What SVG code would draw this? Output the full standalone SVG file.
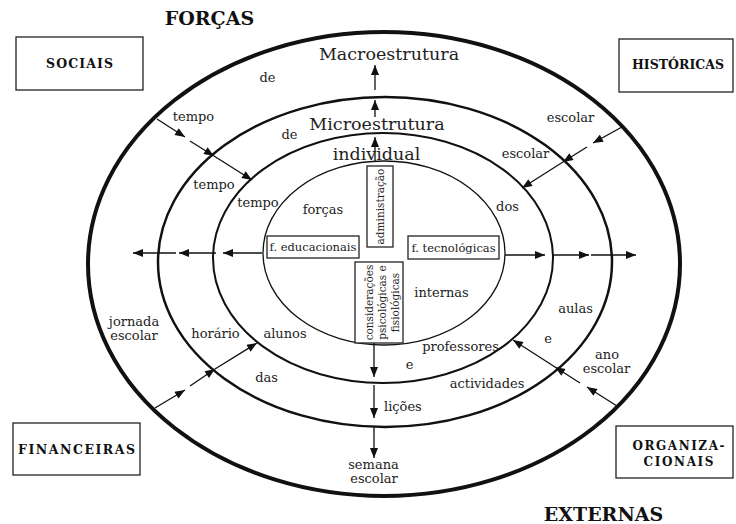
<svg xmlns="http://www.w3.org/2000/svg" width="736" height="524" viewBox="0 0 736 524">
<style>
.t{font-family:'DejaVu Serif','Liberation Serif',serif;fill:#222;text-anchor:middle}
.s13{font-size:13px}
.big{font-size:17.5px}
.bx{font-size:11.5px}
.rt{font-size:10.5px}
.b{font-family:'DejaVu Serif','Liberation Serif',serif;font-weight:bold;fill:#111;text-anchor:middle}
.box{fill:#fff;stroke:#222;stroke-width:1.3}
.ring{fill:none;stroke:#111}
.c{stroke:#111;stroke-width:1.3;fill:none;marker-end:url(#ah)}
</style>
<defs>
<marker id="ah" viewBox="0 0 10 8" refX="10" refY="4" markerWidth="11" markerHeight="8" orient="auto" markerUnits="userSpaceOnUse"><path d="M0,0 L10,4 L0,8 z" fill="#111"/></marker>
</defs>
<rect width="736" height="524" fill="#fff"/>
<g id="rings">
<ellipse id="outer" class="ring" cx="384" cy="264" rx="296" ry="232" stroke-width="4"/>
<ellipse id="ring2" class="ring" cx="385" cy="262" rx="227" ry="165" stroke-width="2.5"/>
<ellipse id="ring3" class="ring" cx="383" cy="258" rx="170" ry="125" stroke-width="2"/>
<ellipse id="inner" class="ring" cx="384" cy="253" rx="121" ry="92" stroke-width="1.3"/>
</g>
<g id="connectors">
<line class="c" x1="375" y1="162" x2="375" y2="137"/>
<line class="c" x1="375" y1="117" x2="375" y2="100"/>
<line class="c" x1="375" y1="90" x2="375" y2="65"/>
<line class="c" x1="374" y1="343" x2="374" y2="377"/>
<line class="c" x1="374" y1="385" x2="374" y2="418"/>
<line class="c" x1="374" y1="427" x2="374" y2="458"/>
<line class="c" x1="262" y1="253" x2="223" y2="253"/>
<line class="c" x1="216" y1="253" x2="179" y2="253"/>
<line class="c" x1="176" y1="253" x2="133" y2="253"/>
<line class="c" x1="505" y1="255" x2="545" y2="255"/>
<line class="c" x1="552" y1="255" x2="589" y2="255"/>
<line class="c" x1="591" y1="255" x2="636" y2="255"/>
<line class="c" x1="157" y1="119" x2="185" y2="137"/>
<line class="c" x1="190" y1="141" x2="214" y2="156"/>
<line class="c" x1="214" y1="156" x2="252" y2="180"/>
<line class="c" x1="622" y1="127" x2="593" y2="143"/>
<line class="c" x1="587" y1="147" x2="563" y2="162"/>
<line class="c" x1="563" y1="162" x2="522" y2="188"/>
<line class="c" x1="155" y1="408" x2="185" y2="390"/>
<line class="c" x1="190" y1="386" x2="215" y2="369"/>
<line class="c" x1="215" y1="369" x2="257" y2="343"/>
<line class="c" x1="617" y1="406" x2="587" y2="387"/>
<line class="c" x1="580" y1="383" x2="555" y2="367"/>
<line class="c" x1="555" y1="367" x2="513" y2="340"/>
</g>
<g id="titles">
<text class="b" x="209.5" y="25" font-size="19">FORÇAS</text>
<text class="b" x="603.5" y="521" font-size="19">EXTERNAS</text>
</g>
<g id="sociais"><rect class="box" x="16" y="37" width="127" height="53"/><text class="b" x="79.5" y="68" font-size="12.5" textLength="67" lengthAdjust="spacing">SOCIAIS</text></g>
<g id="historicas"><rect class="box" x="619" y="39" width="114" height="53"/><text class="b" x="678" y="69" font-size="12.5" textLength="92" lengthAdjust="spacing">HISTÓRICAS</text></g>
<g id="financeiras"><rect class="box" x="13" y="423" width="127" height="52"/><text class="b" x="76.5" y="454" font-size="12.5" textLength="117" lengthAdjust="spacing">FINANCEIRAS</text></g>
<g id="organizacionais"><rect class="box" x="616" y="426" width="117" height="52"/><text class="b" x="678.5" y="450" font-size="12" textLength="92" lengthAdjust="spacing">ORGANIZA-</text><text class="b" x="678.5" y="466" font-size="12" textLength="70" lengthAdjust="spacing">CIONAIS</text></g>
<g id="f-educacionais"><rect class="box" x="267" y="236" width="92" height="22"/><text class="t bx" x="313" y="251">f. educacionais</text></g>
<g id="f-tecnologicas"><rect class="box" x="408" y="236" width="91" height="23"/><text class="t bx" x="453.5" y="252">f. tecnológicas</text></g>
<g id="administracao"><rect class="box" x="367" y="166" width="26" height="81"/><text class="t rt" transform="translate(384,206.5) rotate(-90)">administração</text></g>
<g id="consideracoes"><rect class="box" x="355" y="262" width="48" height="81"/>
<text class="t rt" transform="translate(373,302.5) rotate(-90)">considerações</text>
<text class="t rt" transform="translate(386,302.5) rotate(-90)">psicológicas e</text>
<text class="t rt" transform="translate(398.5,302.5) rotate(-90)">fisiológicas</text></g>
<g id="labels">
<text class="t big" x="389" y="60">Macroestrutura</text>
<text class="t big" x="377" y="130">Microestrutura</text>
<text class="t big" x="376.5" y="160">individual</text>
<text class="t s13" x="267.5" y="82">de</text>
<text class="t s13" x="289.5" y="139">de</text>
<text class="t s13" x="193.5" y="121">tempo</text>
<text class="t s13" x="570.5" y="122">escolar</text>
<text class="t s13" x="525.5" y="158">escolar</text>
<text class="t s13" x="214" y="189">tempo</text>
<text class="t s13" x="258" y="207">tempo</text>
<text class="t s13" x="323" y="214">forças</text>
<text class="t s13" x="507.5" y="211">dos</text>
<text class="t s13" x="441.5" y="297">internas</text>
<text class="t s13" x="575.5" y="313">aulas</text>
<text class="t s13" x="548" y="343">e</text>
<text class="t s13" x="607" y="359">ano</text>
<text class="t s13" x="606.5" y="373">escolar</text>
<text class="t s13" x="460.5" y="351">professores</text>
<text class="t s13" x="409.5" y="369">e</text>
<text class="t s13" x="487" y="388">actividades</text>
<text class="t s13" x="384" y="411" style="text-anchor:start">lições</text>
<text class="t s13" x="373.5" y="469">semana</text>
<text class="t s13" x="374" y="483">escolar</text>
<text class="t s13" x="134" y="326">jornada</text>
<text class="t s13" x="134" y="340">escolar</text>
<text class="t s13" x="215.5" y="338">horário</text>
<text class="t s13" x="285" y="338">alunos</text>
<text class="t s13" x="266.5" y="382">das</text>
</g>
</svg>
